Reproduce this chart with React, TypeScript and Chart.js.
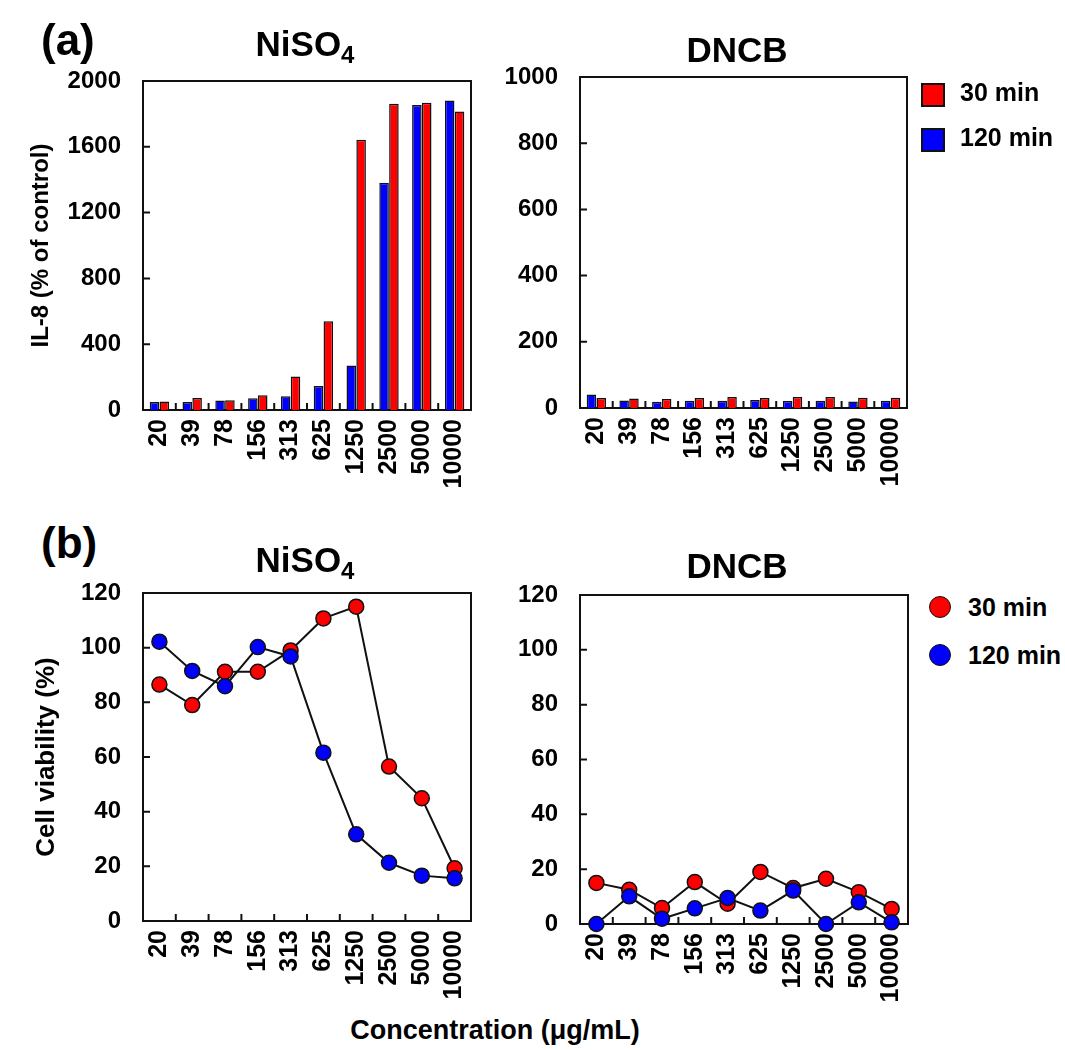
import React, { useEffect, useRef } from 'react';
import { Chart, registerables } from 'chart.js';

Chart.register(...registerables);

// ---------------- Data ----------------
const concentrations = ['20', '39', '78', '156', '313', '625', '1250', '2500', '5000', '10000'];

// IL-8 (% of control)
const il8NiSO4_30 = [52, 73, 59, 89, 204, 540, 1643, 1862, 1868, 1815];
const il8NiSO4_120 = [49, 48, 57, 71, 83, 146, 271, 1382, 1854, 1882];
const il8DNCB_30 = [30, 29, 27, 30, 33, 30, 33, 33, 31, 31];
const il8DNCB_120 = [41, 23, 19, 22, 22, 24, 21, 22, 20, 22];

// Cell viability (%)
const viaNiSO4_30 = [86.5, 79, 91.2, 91.2, 99, 110.7, 115, 56.5, 44.9, 19.3];
const viaNiSO4_120 = [102.2, 91.5, 85.9, 100.2, 96.8, 61.6, 31.7, 21.3, 16.6, 15.6];
const viaDNCB_30 = [15, 12.5, 5.8, 15.3, 7.4, 19, 13.1, 16.5, 11.6, 5.5];
const viaDNCB_120 = [0, 10.1, 1.9, 5.7, 9.5, 4.9, 12.2, 0, 7.9, 0.6];

// Y axis ranges (max, step)
const il8NiSO4Axis = [2000, 400];
const il8DNCBAxis = [1000, 200];
const viabilityAxis = [120, 20];

const seriesNames = ['120 min', '30 min'];

// ---------------- Styling ----------------
const FONT = "'Liberation Sans', Arial, Helvetica, sans-serif";
const RED = '#ff0000';
const BLUE = '#0000ff';
const INK = '#111111';

const framePlugin = {
  id: 'frame',
  beforeDatasetsDraw(chart: any) {
    const { ctx, chartArea, scales } = chart;
    const { left, right, top, bottom } = chartArea;
    ctx.save();
    ctx.strokeStyle = INK;
    ctx.lineWidth = 2;
    ctx.strokeRect(left, top, right - left, bottom - top);
    ctx.beginPath();
    const y = scales.y;
    y.ticks.forEach((t: any) => {
      const py = y.getPixelForValue(t.value);
      if (py > top + 2 && py < bottom - 2) {
        ctx.moveTo(left, py);
        ctx.lineTo(left + 7, py);
      }
    });
    const x = scales.x;
    const n = chart.data.labels.length;
    for (let i = 0; i < n - 1; i++) {
      const px = (x.getPixelForValue(i) + x.getPixelForValue(i + 1)) / 2;
      ctx.moveTo(px, bottom);
      ctx.lineTo(px, bottom - 7);
    }
    ctx.stroke();
    ctx.restore();
  },
};

type Box = { x: number; y: number; w: number; h: number };
type Area = { l: number; t: number; r: number; b: number };

interface PanelProps {
  box: Box;
  area: Area;
  kind: 'bar' | 'line';
  s120: number[];
  s30: number[];
  axis: number[];
  yTitle?: string;
  yTitleSize?: number;
  yTitleCenter?: number;
}

function Panel(p: PanelProps) {
  const ref = useRef<HTMLCanvasElement>(null);
  useEffect(() => {
    const { box, area, kind } = p;
    const isBar = kind === 'bar';
    const mk = (label: string, data: number[], color: string) =>
      isBar
        ? {
            label,
            data,
            backgroundColor: color,
            borderColor: INK,
            borderWidth: 1.5,
            categoryPercentage: 0.6,
            barPercentage: 0.97,
          }
        : {
            label,
            data,
            borderColor: INK,
            borderWidth: 2,
            backgroundColor: color,
            pointBackgroundColor: color,
            pointBorderColor: INK,
            pointBorderWidth: 1.5,
            pointRadius: 7.5,
            tension: 0,
            clip: false,
          };
    const tSize = p.yTitleSize || 20;
    const tLine = tSize * 1.2;
    const titlePadTop = p.yTitleCenter !== undefined ? p.yTitleCenter - box.x - tLine / 2 : 0;
    const chart = new Chart(ref.current as HTMLCanvasElement, {
      type: kind,
      data: {
        labels: concentrations,
        datasets: [mk(seriesNames[0], p.s120, BLUE), mk(seriesNames[1], p.s30, RED)] as any,
      },
      options: {
        responsive: false,
        animation: false,
        layout: {
          padding: { left: 0, top: area.t - box.y, right: box.x + box.w - area.r, bottom: 0 },
        },
        plugins: { legend: { display: false }, tooltip: { enabled: false } },
        scales: {
          x: {
            type: 'category',
            offset: true,
            grid: { display: false, drawTicks: false },
            border: { display: false },
            ticks: {
              autoSkip: false,
              maxRotation: 90,
              minRotation: 90,
              padding: 9,
              color: '#000',
              font: { family: FONT, size: 25, weight: 'bold' },
            },
            afterFit: (s: any) => {
              s.height = box.y + box.h - area.b;
              s.paddingLeft = 0;
              s.paddingRight = 0;
            },
          },
          y: {
            min: 0,
            max: p.axis[0],
            grid: { display: false, drawTicks: false },
            border: { display: false },
            ticks: {
              stepSize: p.axis[1],
              padding: 22,
              color: '#000',
              font: { family: FONT, size: 24, weight: 'bold' },
              callback: (v: any) => String(v),
            },
            title: p.yTitle
              ? {
                  display: true,
                  text: p.yTitle,
                  color: '#000',
                  font: { family: FONT, size: tSize, weight: 'bold' },
                  padding: { top: titlePadTop, bottom: 0 },
                }
              : { display: false },
            afterFit: (s: any) => {
              s.width = area.l - box.x;
              s.paddingTop = 0;
              s.paddingBottom = 0;
            },
          },
        },
      } as any,
      plugins: [framePlugin],
    });
    return () => chart.destroy();
  }, []);
  return (
    <canvas
      ref={ref}
      width={p.box.w}
      height={p.box.h}
      style={{ position: 'absolute', left: p.box.x, top: p.box.y, width: p.box.w, height: p.box.h }}
    />
  );
}

function Txt(props: { x: number; base: number; size: number; center?: boolean; children: any }) {
  const { x, base, size, center, children } = props;
  return (
    <div
      style={{
        position: 'absolute',
        left: x,
        top: base - 0.8465 * size,
        fontSize: size,
        lineHeight: `${size}px`,
        fontWeight: 'bold',
        fontFamily: FONT,
        color: '#000',
        whiteSpace: 'nowrap',
        transform: center ? 'translateX(-50%)' : undefined,
      }}
    >
      {children}
    </div>
  );
}

function NiSO4Title(props: { x: number; base: number }) {
  return (
    <Txt x={props.x} base={props.base} size={35} center>
      NiSO
      <span style={{ fontSize: 24, position: 'relative', top: 7 }}>4</span>
    </Txt>
  );
}

function Square(props: { x: number; y: number; color: string }) {
  return (
    <div
      style={{
        position: 'absolute',
        left: props.x,
        top: props.y,
        width: 24,
        height: 24,
        background: props.color,
        border: `2px solid ${INK}`,
        boxSizing: 'border-box',
      }}
    />
  );
}

function Dot(props: { cx: number; cy: number; color: string }) {
  return (
    <div
      style={{
        position: 'absolute',
        left: props.cx - 11,
        top: props.cy - 11,
        width: 22,
        height: 22,
        borderRadius: '50%',
        background: props.color,
        border: `1.5px solid ${INK}`,
        boxSizing: 'border-box',
      }}
    />
  );
}

export default function App() {
  return (
    <div
      style={{
        position: 'absolute',
        left: 0,
        top: 0,
        width: 1065,
        height: 1050,
        background: '#fff',
        overflow: 'hidden',
      }}
    >
      <Panel
        box={{ x: 0, y: 60, w: 495, h: 445 }}
        area={{ l: 143, t: 81, r: 471, b: 410 }}
        kind="bar"
        s120={il8NiSO4_120}
        s30={il8NiSO4_30}
        axis={il8NiSO4Axis}
        yTitle="IL-8 (% of control)"
        yTitleSize={24}
        yTitleCenter={41.5}
      />
      <Panel
        box={{ x: 500, y: 60, w: 425, h: 445 }}
        area={{ l: 580, t: 77, r: 907, b: 408 }}
        kind="bar"
        s120={il8DNCB_120}
        s30={il8DNCB_30}
        axis={il8DNCBAxis}
      />
      <Panel
        box={{ x: 0, y: 575, w: 495, h: 430 }}
        area={{ l: 143, t: 593, r: 471, b: 921 }}
        kind="line"
        s120={viaNiSO4_120}
        s30={viaNiSO4_30}
        axis={viabilityAxis}
        yTitle="Cell viability (%)"
        yTitleSize={26}
        yTitleCenter={47}
      />
      <Panel
        box={{ x: 500, y: 575, w: 425, h: 430 }}
        area={{ l: 580, t: 595, r: 908, b: 924 }}
        kind="line"
        s120={viaDNCB_120}
        s30={viaDNCB_30}
        axis={viabilityAxis}
      />

      <Txt x={41} base={55} size={44}>(a)</Txt>
      <Txt x={41} base={558} size={44}>(b)</Txt>

      <NiSO4Title x={305} base={56} />
      <Txt x={737} base={62} size={35} center>DNCB</Txt>
      <NiSO4Title x={305} base={572} />
      <Txt x={737} base={578} size={35} center>DNCB</Txt>

      <Square x={921} y={83} color={RED} />
      <Txt x={960} base={101} size={25}>{seriesNames[1]}</Txt>
      <Square x={921} y={128} color={BLUE} />
      <Txt x={960} base={146} size={25}>{seriesNames[0]}</Txt>

      <Dot cx={940} cy={607} color={RED} />
      <Txt x={968} base={616} size={25}>{seriesNames[1]}</Txt>
      <Dot cx={940} cy={655} color={BLUE} />
      <Txt x={968} base={664} size={25}>{seriesNames[0]}</Txt>

      <Txt x={495} base={1040} size={27} center>Concentration (μg/mL)</Txt>
    </div>
  );
}
